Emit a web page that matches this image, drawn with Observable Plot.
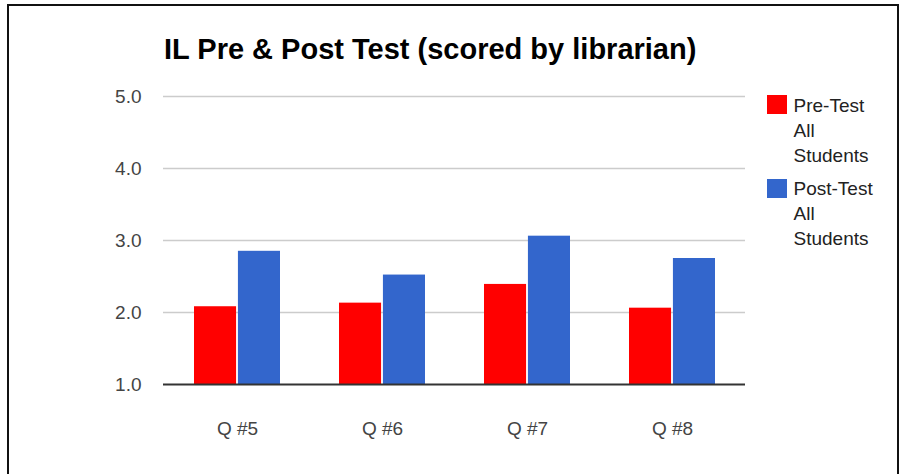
<!DOCTYPE html>
<html><head><meta charset="utf-8">
<script src="https://cdn.jsdelivr.net/npm/d3@7"></script>
<script src="https://cdn.jsdelivr.net/npm/@observablehq/plot@0.6"></script>
<style>
body{margin:0;background:#fff;font-family:Arial,"Liberation Sans",sans-serif;}
#wrap{position:relative;width:906px;height:474px;overflow:hidden;background:#fff;}
#frame{position:absolute;left:7px;top:4px;width:888px;height:600px;border:2px solid #111;box-sizing:content-box;pointer-events:none;}
#title{position:absolute;left:164px;top:34.5px;font-weight:bold;font-size:29px;line-height:29px;color:#000;white-space:nowrap;}
#chart{position:absolute;left:0;top:0;}
.entry{position:absolute;left:767px;}
.sw{position:absolute;left:0;width:20px;height:19px;}
.lt{position:absolute;left:26.5px;width:95px;font-size:19px;line-height:25px;color:#222;}
</style></head>
<body>
<div id="wrap">
  <div id="chart"></div>
  <div id="title">IL Pre &amp; Post Test (scored by librarian)</div>
  <div id="legend"></div>
  <div id="frame"></div>
</div>
<script>
const questions = ["Q #5", "Q #6", "Q #7", "Q #8"];
const preTest = [2.08, 2.13, 2.39, 2.06];
const postTest = [2.85, 2.52, 3.06, 2.75];
const series = ["Pre-Test All Students", "Post-Test All Students"];
const colors = ["#ff0000", "#3366cc"];
const yTicks = [1, 2, 3, 4, 5];
const baseline = 1;

const rows = [];
questions.forEach((q, i) => {
  rows.push({q, series: series[0], value: preTest[i]});
  rows.push({q, series: series[1], value: postTest[i]});
});

const W = 906, H = 474, ml = 163, mr = 161, mt = 96, mb = 90;
const pIn = 0.41, pOut = 0.205;
const step = (W - ml - mr) / (questions.length - pIn + 2 * pOut);
const bw = step * (1 - pIn);

const chart = Plot.plot({
  width: W, height: H,
  marginLeft: ml, marginRight: mr, marginTop: mt, marginBottom: mb,
  style: {fontSize: "19px", fontFamily: "Arial, 'Liberation Sans', sans-serif", color: "#444", background: "transparent"},
  x: {domain: questions, paddingInner: pIn, paddingOuter: pOut, tickSize: 0, tickPadding: 37, label: null},
  y: {domain: [1, 5], ticks: yTicks, tickFormat: d3.format(".1f"), tickSize: 0, tickPadding: 22, label: null},
  color: {domain: series, range: colors},
  marks: [
    Plot.ruleY(yTicks.filter(t => t > baseline), {stroke: "#cccccc", strokeWidth: 1.3}),
    Plot.barY(rows.filter(d => d.series === series[0]), {x: "q", y1: () => baseline, y2: "value", fill: "series", insetRight: bw / 2 + 1, insetLeft: 0}),
    Plot.barY(rows.filter(d => d.series === series[1]), {x: "q", y1: () => baseline, y2: "value", fill: "series", insetLeft: bw / 2 + 1, insetRight: 0}),
    Plot.ruleY([baseline], {stroke: "#333", strokeWidth: 2})
  ]
});
document.getElementById("chart").appendChild(chart);

const legend = document.getElementById("legend");
const tops = [92.6, 175.9];
const swOff = [2.4, 3.4];
series.forEach((s, i) => {
  const e = document.createElement("div");
  e.className = "entry";
  e.style.top = tops[i] + "px";
  const sw = document.createElement("div");
  sw.className = "sw";
  sw.style.top = swOff[i] + "px";
  sw.style.background = colors[i];
  const t = document.createElement("div");
  t.className = "lt";
  t.style.top = "0px";
  t.textContent = s;
  e.appendChild(sw); e.appendChild(t);
  legend.appendChild(e);
});
</script>
</body></html>
